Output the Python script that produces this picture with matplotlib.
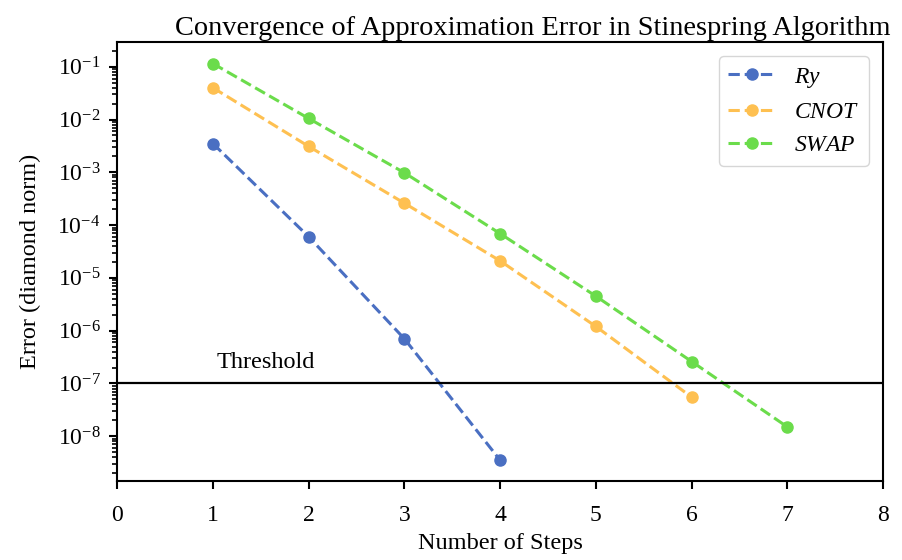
import numpy as np
import matplotlib
matplotlib.use("Agg")
import matplotlib.pyplot as plt

plt.rcParams['font.family'] = ['Liberation Serif', 'DejaVu Serif']
plt.rcParams['mathtext.fontset'] = 'custom'
plt.rcParams['mathtext.rm'] = 'Liberation Serif'
plt.rcParams['mathtext.it'] = 'Liberation Serif:italic'

# data
steps_ry = [1, 2, 3, 4]
err_ry = [3.5e-3, 6.0e-5, 7.0e-7, 3.5e-9]
steps_cnot = [1, 2, 3, 4, 5, 6]
err_cnot = [4.0e-2, 3.1e-3, 2.6e-4, 2.1e-5, 1.2e-6, 5.5e-8]
steps_swap = [1, 2, 3, 4, 5, 6, 7]
err_swap = [1.15e-1, 1.05e-2, 9.8e-4, 6.9e-5, 4.5e-6, 2.6e-7, 1.5e-8]
threshold = 1e-7

fig, ax = plt.subplots(figsize=(9.02, 5.6), dpi=100)

ax.plot(steps_ry, err_ry, '--o', color='#4a6fc2', lw=2.2, ms=8, label='$\\mathit{Ry}$')
ax.plot(steps_cnot, err_cnot, '--o', color='#fec051', lw=2.2, ms=8, label='$\\mathit{CNOT}$')
ax.plot(steps_swap, err_swap, '--o', color='#6bdc4b', lw=2.2, ms=8, label='$\\mathit{SWAP}$')
ax.axhline(threshold, color='black', lw=1.6)
ax.text(1.55, threshold * 1.55, 'Threshold', ha='center', va='bottom', fontsize=17.5)

ax.set_yscale('log')
ax.set_xlim(0, 8)
ax.set_ylim(10 ** -8.85, 10 ** -0.53)
ax.set_xticks(range(9))
ax.tick_params(labelsize=17, width=1.5, length=6)
ax.tick_params(axis='x', pad=11)
ax.tick_params(axis='y', pad=6)
ax.tick_params(which='minor', width=1.2, length=3.5)
ax.yaxis.set_minor_locator(matplotlib.ticker.LogLocator(base=10, subs=np.arange(2, 10), numticks=20))
for s in ax.spines.values():
    s.set_linewidth(1.5)

ax.set_xlabel('Number of Steps', fontsize=17.5, labelpad=5)
ax.set_ylabel('Error (diamond norm)', fontsize=17.5, labelpad=12)
ttl = ax.set_title('Convergence of Approximation Error in Stinespring Algorithm', fontsize=20.4, pad=5)
ttl.set_x(0.543)
ax.legend(loc='upper right', fontsize=17, framealpha=0.8, edgecolor='#cccccc',
          borderaxespad=0.6)

fig.subplots_adjust(left=0.13, right=0.979, top=0.925, bottom=0.141)
fig.savefig('out.png', dpi=100)
